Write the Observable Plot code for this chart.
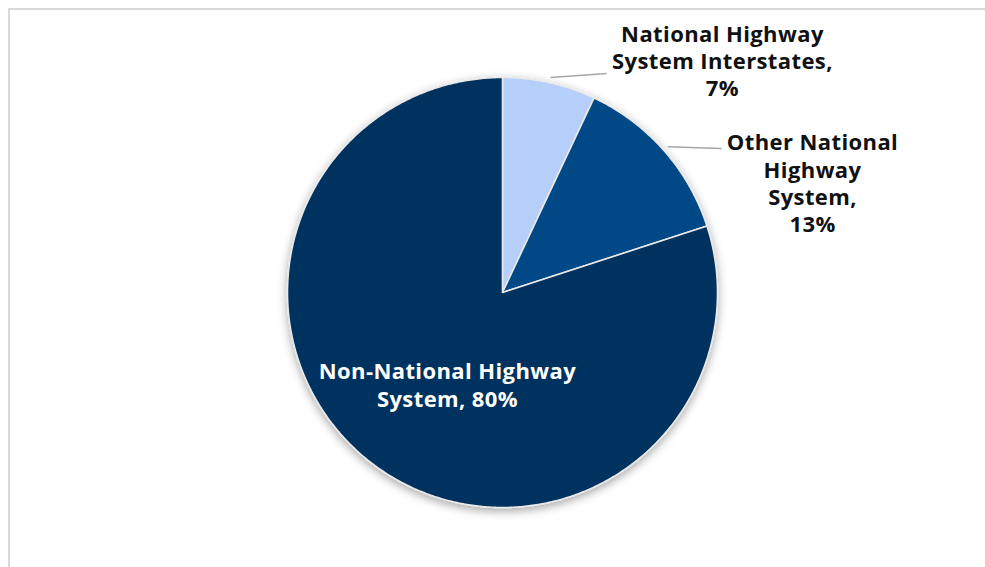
<!DOCTYPE html>
<html>
<head>
<meta charset="utf-8">
<script src="https://cdn.jsdelivr.net/npm/d3@7"></script>
<script src="https://cdn.jsdelivr.net/npm/@observablehq/plot@0.6"></script>
<style>
  html, body { margin: 0; padding: 0; background: #fff; }
  #wrap { position: relative; width: 985px; height: 567px; overflow: hidden; }
  #frame { position: absolute; left: 8px; top: 8px; width: 1200px; height: 800px;
           border-left: 2px solid #d9d9d9; border-top: 2px solid #d9d9d9; pointer-events: none; }
  #chart { position: absolute; left: 0; top: 0; }
  #chart g[aria-label=text] text { letter-spacing: 0.4px; }
</style>
</head>
<body>
<div id="wrap"><div id="chart"></div><div id="frame"></div></div>
<script>
// ---- data ----
const categories = ["National Highway System Interstates", "Other National Highway System", "Non-National Highway System"];
const shares = [7, 13, 80];
const labelTexts = ["National Highway\nSystem Interstates,\n7%", "Other National\nHighway\nSystem,\n13%", "Non-National Highway\nSystem, 80%"];
const sliceColors = ["#b6cefa", "#004a86", "#00305f"];
const labelColors = ["#111111", "#111111", "#ffffff"];

// ---- layout (in pie-radius units, center at 0,0) ----
const labelPos = [[1.023, 1.081], [1.442, 0.512], [-0.256, -0.427]];
const leaderEnd = [[0.484, 1.019], [1.019, 0.670], null];

const W = 985, H = 567, cx = 502, cy = 292, R = 215;

const arcs = d3.pie().sort(null).value(d => d)(shares);
const slicePts = [];
arcs.forEach((a, i) => {
  slicePts.push({k: i, x: 0, y: 0});
  const n = Math.max(2, Math.ceil((a.endAngle - a.startAngle) / (Math.PI / 360)));
  for (let j = 0; j <= n; j++) {
    const t = a.startAngle + (a.endAngle - a.startAngle) * j / n;
    slicePts.push({k: i, x: Math.sin(t), y: Math.cos(t)});
  }
  slicePts.push({k: i, x: 0, y: 0});
});

const labels = labelTexts.map((t, i) => ({t, i, x: labelPos[i][0], y: labelPos[i][1]}));
const leaders = arcs.map((a, i) => {
  if (!leaderEnd[i]) return null;
  const m = (a.startAngle + a.endAngle) / 2, r0 = 1.025;
  return {x1: r0 * Math.sin(m), y1: r0 * Math.cos(m), x2: leaderEnd[i][0], y2: leaderEnd[i][1]};
}).filter(Boolean);

const plot = Plot.plot({
  width: W, height: H,
  margin: 0,
  x: {domain: [-cx / R, (W - cx) / R], range: [0, W], axis: null},
  y: {domain: [-(H - cy) / R, cy / R], range: [H, 0], axis: null},
  style: {background: "transparent", overflow: "visible"},
  marks: [
    Plot.line(slicePts, {x: "x", y: "y", z: "k", fill: d => sliceColors[d.k], stroke: "#e8e8e8", strokeWidth: 1.6, strokeLinejoin: "round", curve: "linear"}),
    Plot.link(leaders, {x1: "x1", y1: "y1", x2: "x2", y2: "y2", stroke: "#a6a6a6", strokeWidth: 1.5}),
    Plot.text(labels, {x: "x", y: "y", text: "t", fill: d => labelColors[d.i], fontSize: 22, fontWeight: "bold",
      fontFamily: "'Open Sans', Lato, sans-serif", lineHeight: 1.24, textAnchor: "middle", lineAnchor: "middle"})
  ]
});

// soft shadow behind the pie
const svg = d3.select(plot);
const defs = svg.insert("defs", ":first-child");
const f = defs.append("filter").attr("id", "pieShadow").attr("x", "-20%").attr("y", "-20%").attr("width", "140%").attr("height", "140%");
f.append("feDropShadow").attr("dx", 0).attr("dy", 3).attr("stdDeviation", 5).attr("flood-color", "#000").attr("flood-opacity", 0.35);
svg.select("g[aria-label=line]").attr("filter", "url(#pieShadow)");

document.getElementById("chart").appendChild(plot);
</script>
</body>
</html>
